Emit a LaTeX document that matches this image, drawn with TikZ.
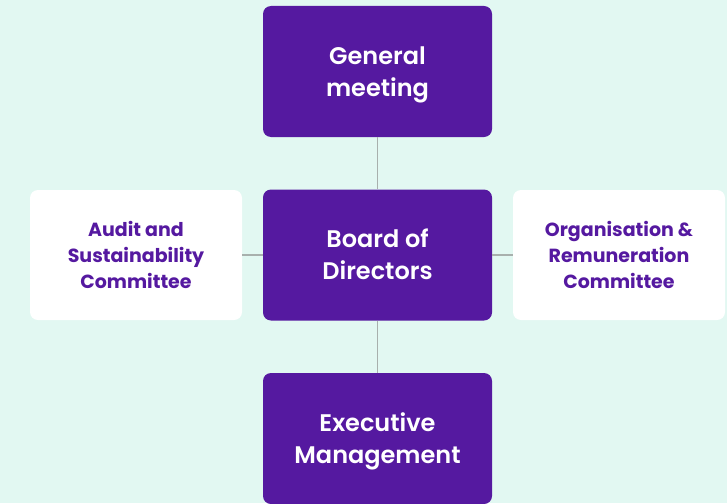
\documentclass[tikz,border=0pt]{standalone}
\usepackage{fontspec}
\setmainfont{Poppins}[UprightFont=* SemiBold, BoldFont=* Bold]
\definecolor{bgc}{HTML}{E2F8F2}
\definecolor{purp}{HTML}{5519A0}
\definecolor{linec}{HTML}{A8B0AD}
\begin{document}
\begin{tikzpicture}[x=1pt,y=-1pt,
  mainbox/.style={draw=none,fill=purp,rounded corners=8pt,text=white,minimum width=229pt,minimum height=131pt,align=center,font=\fontsize{24}{32}\selectfont,inner sep=0pt},
  sidebox/.style={draw=none,fill=white,rounded corners=8pt,text=purp,minimum width=212pt,minimum height=130pt,align=center,font=\fontsize{19}{26}\selectfont\bfseries,inner sep=0pt},
  lbl/.style={fill=none,minimum width=0pt,minimum height=0pt},
  conn/.style={draw=linec,line width=1.5pt}]
\fill[bgc] (0,0) rectangle (727,503);
\useasboundingbox (0,0) rectangle (727,503);
\node[mainbox] (gm) at (377.5,71.5) {};
\node[mainbox] (bd) at (377.5,255) {};
\node[mainbox] (em) at (377.5,438.5) {};
\node[sidebox] (au) at (136,255) {};
\node[sidebox] (or) at (619,255) {};
\node[mainbox,lbl] (gmt) at ([yshift=-3pt]gm.center) {General\\meeting};
\node[mainbox,lbl] (bdt) at ([yshift=1pt]bd.center) {Board of\\Directors};
\node[mainbox,lbl] (emt) at ([yshift=-3pt]em.center) {Executive\\Management};
\node[sidebox,lbl] (aut) at (au.center) {Audit and\\Sustainability\\Committee};
\node[sidebox,lbl] (ort) at (or.center) {Organisation \&\\Remuneration\\Committee};
\draw[conn] (gm) -- (bd);
\draw[conn] (bd) -- (em);
\draw[conn] (au) -- (bd);
\draw[conn] (bd) -- (or);
\end{tikzpicture}
\end{document}
